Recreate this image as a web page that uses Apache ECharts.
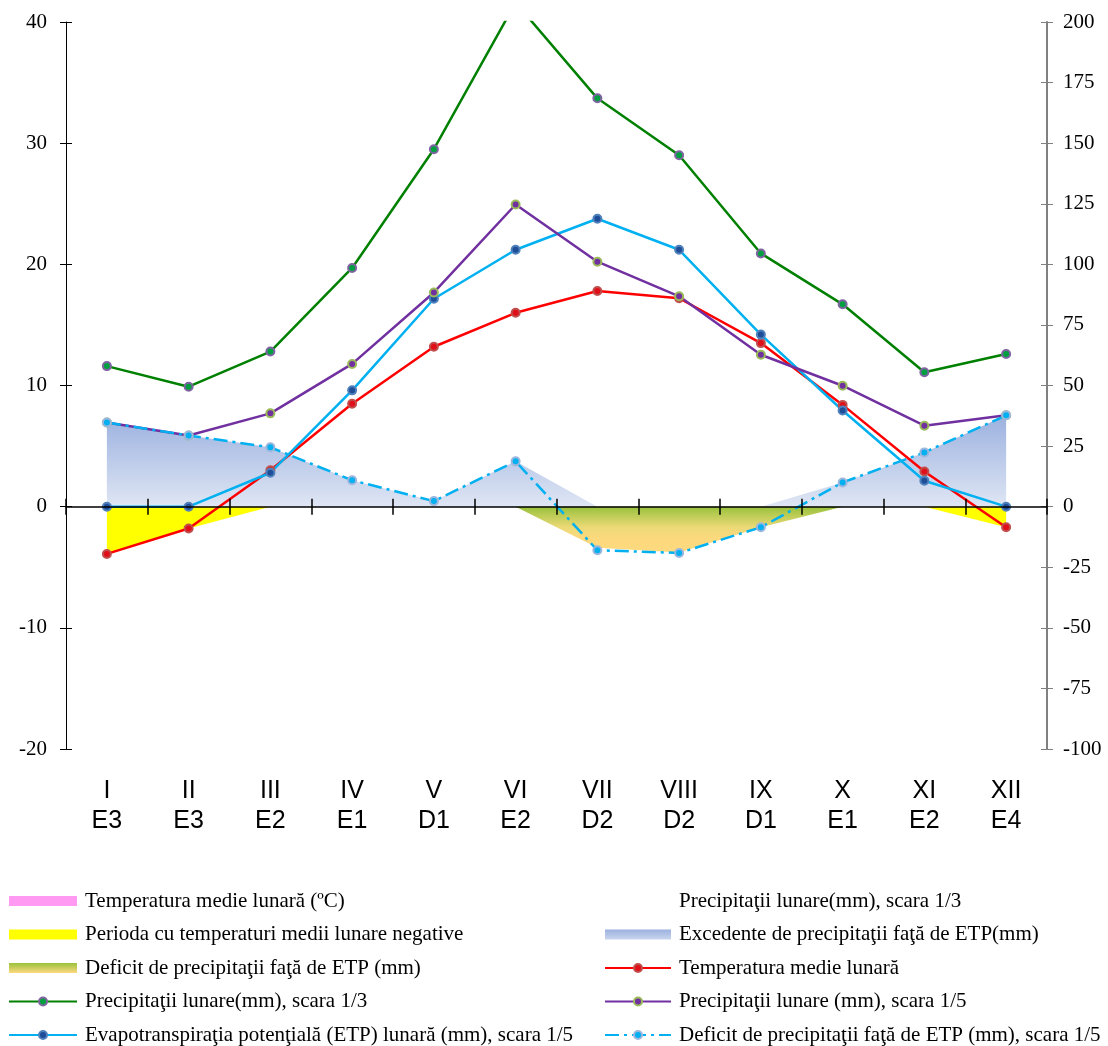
<!DOCTYPE html>
<html><head><meta charset="utf-8">
<script src="https://cdn.jsdelivr.net/npm/echarts@6/dist/echarts.min.js"></script>
<style>html,body{margin:0;padding:0;background:#fff}#c{width:1108px;height:1046px}</style>
</head><body><div id="c"></div>
<script>
const months = ['I','II','III','IV','V','VI','VII','VIII','IX','X','XI','XII'];
const codes = ['E3','E3','E2','E1','D1','E2','D2','D2','D1','E1','E2','E4'];
const leftTicks = {min: -20, max: 40, interval: 10};
const rightTicks = {min: -100, max: 200, interval: 25};
// temperature (°C), left axis
const temp = [-3.9, -1.8, 3.0, 8.5, 13.2, 16.0, 17.8, 17.2, 13.5, 8.4, 2.9, -1.7];
// precipitation plotted at scale 1/3 (left axis units)
const precip13 = [11.6, 9.9, 12.8, 19.7, 29.5, 41.6, 33.7, 29.0, 20.9, 16.7, 11.1, 12.6];
// precipitation (mm) scale 1/5, right axis
const precip15 = [34.7, 29.4, 38.5, 58.9, 88.4, 124.7, 101.1, 86.8, 62.7, 49.9, 33.4, 37.7];
// ETP (mm), right axis
const etp = [0, 0, 14.0, 48.0, 85.8, 106.0, 118.8, 106.0, 71.0, 39.7, 10.7, 0];
// deficit line (mm), right axis
const deficitLine = [34.7, 29.4, 24.5, 10.9, 2.3, 18.7, -18.0, -19.1, -8.5, 10.0, 22.4, 37.7];
// excess area (mm), right axis
const excessArea = [34.7, 29.4, 24.5, 10.9, 2.3, 18.7, 0, 0, 0, 10.0, 22.4, 37.7];
// deficit area (mm), right axis
const deficitArea = [0, 0, 0, 0, 0, 0, -17.0, -18.9, -8.5, 0, 0, 0];
// negative temperature period (°C), left axis
const negTemp = [-3.9, -1.8, 0, 0, 0, 0, 0, 0, 0, 0, 0, -1.7];

const N_PINK = 'Temperatura medie lunară (ºC)';
const N_NEG = 'Perioda cu temperaturi medii lunare negative';
const N_DEFA = 'Deficit de precipitaţii faţă de ETP (mm)';
const N_P13 = 'Precipitaţii lunare(mm), scara 1/3';
const N_ETP = 'Evapotranspiraţia potenţială (ETP) lunară (mm), scara 1/5';
const N_P13B = 'Precipitaţii lunare(mm), scara 1/3 ';
const N_EXC = 'Excedente de precipitaţii faţă de ETP(mm)';
const N_TEMP = 'Temperatura medie lunară';
const N_P15 = 'Precipitaţii lunare (mm), scara 1/5';
const N_DEFL = 'Deficit de precipitaţii faţă de ETP (mm), scara 1/5';

const serif = 'Liberation Serif';
const blueGrad = new echarts.graphic.LinearGradient(0, 0, 0, 1, [
  {offset: 0, color: '#9bb1df'}, {offset: 1, color: '#dfe6f4'}]);
const defGrad = new echarts.graphic.LinearGradient(0, 0, 0, 1, [
  {offset: 0, color: '#98c23c'}, {offset: 0.45, color: '#ecd977'}, {offset: 0.7, color: '#fdd97d'}, {offset: 1, color: '#fed97f'}]);
const blueGradL = new echarts.graphic.LinearGradient(0, 0, 0, 1, [
  {offset: 0, color: '#9bb1df'}, {offset: 1, color: '#c9d5ee'}]);
const defGradL = new echarts.graphic.LinearGradient(0, 0, 0, 1, [
  {offset: 0, color: '#98c23c'}, {offset: 1, color: '#fed97f'}]);

function lineSeries(name, data, yIdx, color, mFill, mBorder, dashed) {
  return {
    name, type: 'line', data, xAxisIndex: 0, yAxisIndex: yIdx,
    symbol: 'circle', symbolSize: 8, showSymbol: true,
    lineStyle: {color, width: 2.5, type: dashed ? [14, 5, 3, 5] : 'solid'},
    itemStyle: {color: mFill, borderColor: mBorder, borderWidth: 2},
    emphasis: {disabled: true}, z: 5
  };
}
function areaSeries(name, data, yIdx, grad) {
  return {
    name, type: 'line', data, xAxisIndex: 0, yAxisIndex: yIdx,
    symbol: 'none', showSymbol: false,
    lineStyle: {width: 0, opacity: 0},
    itemStyle: {color: grad},
    areaStyle: {color: grad, opacity: 1},
    emphasis: {disabled: true}, z: 2
  };
}

const baseX = {type: 'category', data: months, boundaryGap: true, gridIndex: 0};
const legendText = {fontFamily: serif, fontSize: 21, color: '#000', lineHeight: 22, padding: [0, 0, 0, 3]};
const option = {
  animation: false,
  grid: {left: 66, right: 61, top: 22, bottom: 297, containLabel: false},
  xAxis: [
    Object.assign({}, baseX, {
      position: 'bottom',
      axisLine: {show: false, onZero: false}, axisTick: {show: false},
      axisLabel: {interval: 0, margin: 27, fontFamily: 'Liberation Sans', fontSize: 25, lineHeight: 30, color: '#000',
        formatter: (v, i) => months[i] + '\n' + codes[i]}
    }),
    Object.assign({}, baseX, {
      position: 'bottom', z: 10,
      axisLine: {show: true, onZero: true, onZeroAxisIndex: 0, lineStyle: {color: '#000', width: 1.5}},
      axisTick: {show: true, inside: false, length: 8, lineStyle: {color: '#000', width: 1.5}},
      axisLabel: {show: false}
    }),
    Object.assign({}, baseX, {
      position: 'bottom', z: 10,
      axisLine: {show: false, onZero: true, onZeroAxisIndex: 0},
      axisTick: {show: true, inside: true, length: 8, lineStyle: {color: '#000', width: 1.5}},
      axisLabel: {show: false}
    })
  ],
  yAxis: [
    Object.assign({type: 'value', position: 'left'}, leftTicks, {
      splitLine: {show: false},
      axisLine: {show: true, lineStyle: {color: '#000', width: 1}},
      axisTick: {show: true, inside: false, length: 6, lineStyle: {color: '#000'}},
      axisLabel: {fontFamily: serif, fontSize: 21, color: '#000', margin: 19}
    }),
    Object.assign({type: 'value', position: 'right'}, rightTicks, {
      splitLine: {show: false},
      axisLine: {show: true, lineStyle: {color: '#808080', width: 2}},
      axisTick: {show: true, inside: false, length: 6, lineStyle: {color: '#808080'}},
      axisLabel: {fontFamily: serif, fontSize: 21, color: '#000', margin: 16}
    }),
    Object.assign({type: 'value', position: 'left'}, leftTicks, {
      splitLine: {show: false}, axisLine: {show: false},
      axisTick: {show: true, inside: true, length: 6, lineStyle: {color: '#000'}},
      axisLabel: {show: false}
    }),
    Object.assign({type: 'value', position: 'right'}, rightTicks, {
      splitLine: {show: false}, axisLine: {show: false},
      axisTick: {show: true, inside: true, length: 6, lineStyle: {color: '#808080'}},
      axisLabel: {show: false}
    })
  ],
  legend: [
    {
      orient: 'vertical', left: 8, top: 890, padding: 0, itemWidth: 68, itemHeight: 10, itemGap: 11.5,
      selectedMode: false, textStyle: legendText,
      data: [
        {name: N_PINK, icon: 'rect', itemStyle: {color: '#ff99f2', borderWidth: 0}},
        {name: N_NEG, icon: 'rect', itemStyle: {color: '#ffff00', borderWidth: 0}},
        {name: N_DEFA, icon: 'rect', itemStyle: {color: defGradL, borderWidth: 0}},
        {name: N_P13},
        {name: N_ETP}
      ]
    },
    {
      orient: 'vertical', left: 604, top: 890, padding: 0, itemWidth: 66, itemHeight: 10, itemGap: 11.5,
      selectedMode: false, textStyle: legendText,
      data: [
        {name: N_P13B, icon: 'none'},
        {name: N_EXC, icon: 'rect', itemStyle: {color: blueGradL, borderWidth: 0}},
        {name: N_TEMP},
        {name: N_P15},
        {name: N_DEFL}
      ]
    }
  ],
  series: [
    {name: N_PINK, type: 'line', data: [], itemStyle: {color: '#ff99f2'}},
    {name: N_P13B, type: 'line', data: [], itemStyle: {color: '#fff'}},
    areaSeries(N_EXC, excessArea, 1, blueGrad),
    areaSeries(N_DEFA, deficitArea, 1, defGrad),
    areaSeries(N_NEG, negTemp, 0, '#ffff00'),
    lineSeries(N_TEMP, temp, 0, '#ff0000', '#e0101a', '#c0504d', false),
    lineSeries(N_P13, precip13, 0, '#008000', '#00a040', '#8064a2', false),
    lineSeries(N_ETP, etp, 1, '#00b0f0', '#1f4e99', '#4f81bd', false),
    lineSeries(N_P15, precip15, 1, '#7030a0', '#7030a0', '#9bbb59', false),
    lineSeries(N_DEFL, deficitLine, 1, '#00b0f0', '#00b0f0', '#9db6dd', true)
  ]
};
const chart = echarts.init(document.getElementById('c'), null, {renderer: 'canvas'});
chart.setOption(option);
</script></body></html>
